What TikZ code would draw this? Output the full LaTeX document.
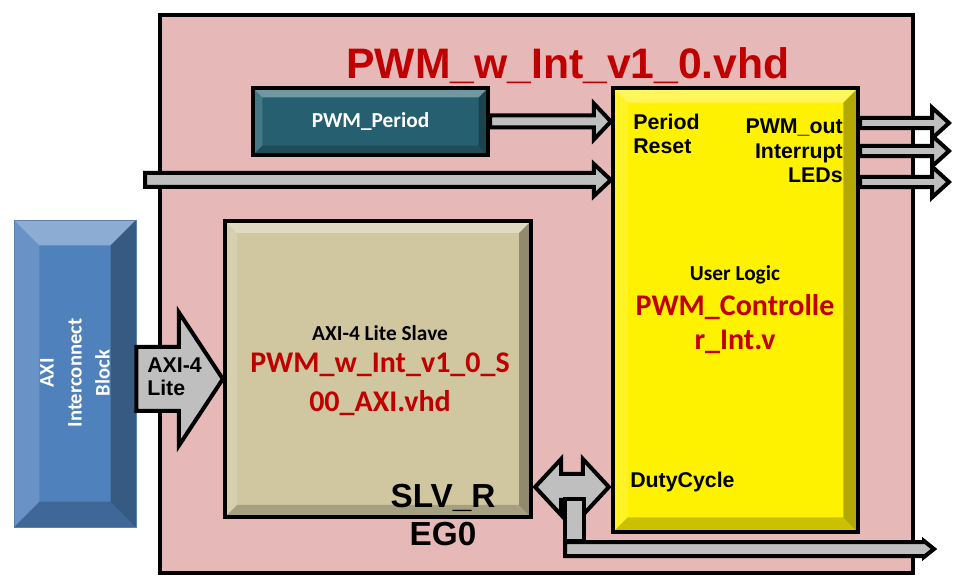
\documentclass[tikz,border=0pt]{standalone}
\usepackage{fontspec}
\newfontfamily\arialfont{Liberation Sans}
\newfontfamily\califont{Carlito}
\usetikzlibrary{fit,calc}
\definecolor{pinkbg}{HTML}{E6B8B7}
\definecolor{darkred}{HTML}{C00000}
\definecolor{tealbox}{RGB}{38,96,112}
\definecolor{tanbox}{RGB}{208,199,160}
\definecolor{bluebox}{HTML}{4F81BD}
\definecolor{arrgray}{HTML}{BFBFBF}
\tikzset{
 bevel/.style={path picture={
   \fill[white,opacity=.35] (path picture bounding box.north west) -- (path picture bounding box.north east) -- ([shift={(-#1,-#1)}]path picture bounding box.north east) -- ([shift={(#1,-#1)}]path picture bounding box.north west) -- cycle;
   \fill[white,opacity=.15] (path picture bounding box.north west) -- ([shift={(#1,-#1)}]path picture bounding box.north west) -- ([shift={(#1,#1)}]path picture bounding box.south west) -- (path picture bounding box.south west) -- cycle;
   \fill[black,opacity=.3] (path picture bounding box.north east) -- ([shift={(-#1,-#1)}]path picture bounding box.north east) -- ([shift={(-#1,#1)}]path picture bounding box.south east) -- (path picture bounding box.south east) -- cycle;
   \fill[black,opacity=.2] (path picture bounding box.south west) -- ([shift={(#1,#1)}]path picture bounding box.south west) -- ([shift={(-#1,#1)}]path picture bounding box.south east) -- (path picture bounding box.south east) -- cycle;
 }},
 box/.style={inner sep=0pt, draw=black, line width=3.2pt},
 barrow/.style={fill=arrgray, draw=black, line width=3pt, line join=miter},
 lab/.style={font=\arialfont\bfseries\fontsize{16}{18.4}\selectfont, inner sep=0pt},
 clab/.style={font=\califont\bfseries\fontsize{16}{19}\selectfont, inner sep=0pt},
 redlab/.style={text=darkred, align=center, inner sep=0pt},
}
% #2 start, #3 end, #4 half shaft, #5 half head, #6 head length
\newcommand\harrow[6][]{%
 \draw[barrow,#1] let \p1=#2, \p2=#3 in
  (\x1,\y1+#4) -- (\x2-#6,\y1+#4) -- (\x2-#6,\y1+#5) -- (\x2,\y1)
  -- (\x2-#6,\y1-#5) -- (\x2-#6,\y1-#4) -- (\x1,\y1-#4) -- cycle;}
\begin{document}
\begin{tikzpicture}[x=0.75pt,y=-0.75pt]
\useasboundingbox (0,0) rectangle (953,580);
% outer module
\node[box, fill=pinkbg, fit={(160,15) (913,573)}] (outer) {};
\node[font=\arialfont\bfseries\fontsize{32}{36}\selectfont, text=darkred, inner sep=0pt] (title) at (568,66) {PWM\_w\_Int\_v1\_0.vhd};
% blocks
\node[box, fill=tealbox, bevel=7pt, fit={(253,88) (488,155)}] (per) {};
\node[clab, text=white] at (per.center) {PWM\_Period};
\node[box, fill=yellow, bevel=11pt, fit={(613,88) (858,532)}] (ylw) {};
\node[box, fill=tanbox, bevel=9pt, fit={(225,221) (531,517)}] (tan) {};
\node[inner sep=0pt, draw=bluebox!70!gray, line width=0.6pt, fill=bluebox, bevel=19pt, fit={(14,220) (136,527)}] (axi) {};
\node[font=\califont\bfseries\fontsize{15.5}{21}\selectfont, text=white, align=center, rotate=90, inner sep=0pt] at (75,373) {AXI\\Interconnect\\Block};
% coordinates for arrows
\coordinate (lin) at (145,180);
\coordinate (o1) at (949,123);
\coordinate (o2) at (949,151);
\coordinate (o3) at (949,182);
\coordinate (ax) at (136,379);
\coordinate (dy) at (560,487);
\coordinate (bo) at (934,549);
% arrows into user logic
\harrow{(per.east)}{(ylw.west |- per.east)}{4.5pt}{13.5pt}{12.75pt}
\harrow{(lin)}{(ylw.west |- lin)}{5.25pt}{12pt}{12.75pt}
% outputs
\harrow{(ylw.east |- o1)}{(o1)}{3.9pt}{11.6pt}{12.75pt}
\harrow{(ylw.east |- o2)}{(o2)}{3.9pt}{11.6pt}{12.75pt}
\harrow{(ylw.east |- o3)}{(o3)}{3.9pt}{11.6pt}{12.75pt}
% AXI-4 Lite arrow
\harrow{(axi.east |- ax)}{(tan.west |- ax)}{24pt}{50pt}{33pt}
% double arrow slave <-> user logic
\draw[barrow] let \p1=(tan.east |- dy), \p2=(ylw.west |- dy) in
  (\x1+1.5pt,\y1) -- (\x1+21pt,\y1+21pt) -- (\x1+21pt,\y1+9.75pt) -- (\x2-21pt,\y1+9.75pt)
  -- (\x2-21pt,\y1+21pt) -- (\x2-1.5pt,\y1) -- (\x2-21pt,\y1-21pt) -- (\x2-21pt,\y1-9.75pt)
  -- (\x1+21pt,\y1-9.75pt) -- (\x1+21pt,\y1-21pt) -- cycle;
\draw[barrow] (565,499) rectangle (584,541);
\harrow{(565,549)}{(bo)}{5.25pt}{6pt}{7.5pt}
% labels
\node[lab, anchor=west, align=left] (prl) at (633,134) {Period\\Reset};
\node[lab, anchor=east, align=right] (pol) at (843,151) {PWM\_out\\Interrupt\\LEDs};
\node[lab, anchor=west] (dcl) at (630,482) {DutyCycle};
\node[lab, anchor=west, align=left, font=\arialfont\bfseries\fontsize{16}{17.25}\selectfont] (axl) at (147,377) {AXI-4\\Lite};
\node[clab] (ul) at (735,275) {User Logic};
\node[redlab, font=\califont\bfseries\fontsize{22.5}{25.5}\selectfont] (ulf) at (735,324) {PWM\_Controlle\\r\_Int.v};
\node[clab] (sl) at (380,333) {AXI-4 Lite Slave};
\node[redlab, font=\califont\bfseries\fontsize{22.5}{29.25}\selectfont] (slf) at (380,384) {PWM\_w\_Int\_v1\_0\_S\\00\_AXI.vhd};
\node[align=center, inner sep=0pt, font=\arialfont\bfseries\fontsize{25}{29}\selectfont] (reg) at (443,515) {SLV\_R\\EG0};
\end{tikzpicture}
\end{document}
